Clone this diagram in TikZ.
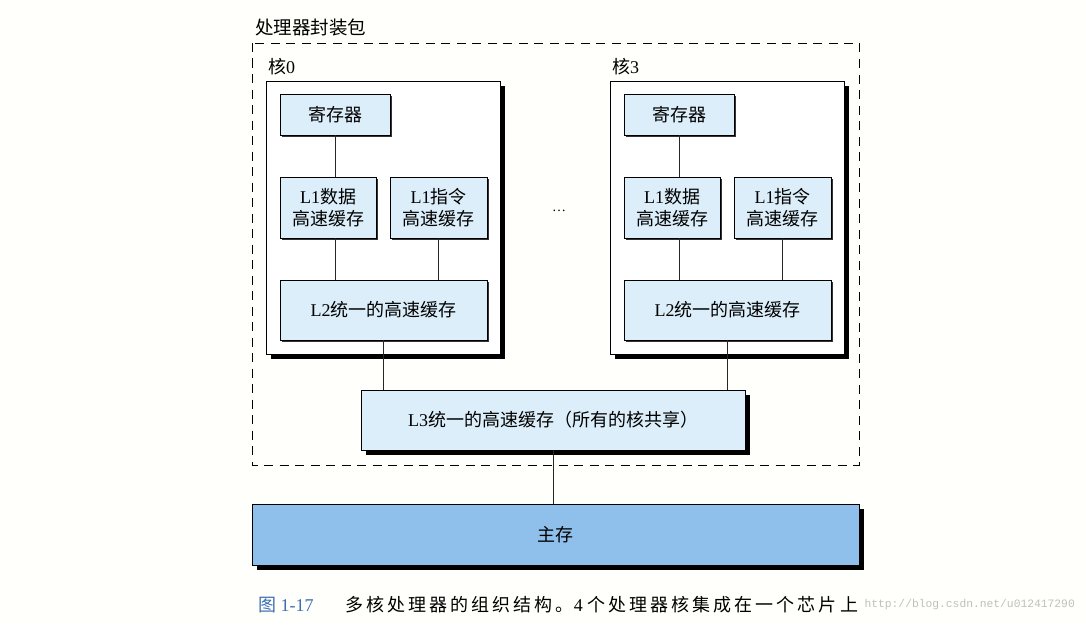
\documentclass[tikz,border=0pt]{standalone}
\usepackage{fontspec}
\setmainfont{Liberation Serif}
\newfontfamily\cjk{Noto Sans CJK SC}
\newfontfamily\cjkcap[LetterSpace=17]{Noto Sans CJK SC}
\newfontfamily\wmfont{Liberation Mono}
\usetikzlibrary{shadows}
\definecolor{lightb}{HTML}{DCEEF9}
\definecolor{memb}{HTML}{8FC0EB}
\definecolor{capblue}{HTML}{3B6DB3}
\definecolor{bgc}{HTML}{FFFFFC}
\begin{document}
\begin{tikzpicture}[x=1pt,y=-1pt,
  txt/.style={font=\fontsize{18}{22}\selectfont},
  corebox/.style={draw, line width=0.9pt, fill=white, inner sep=0pt,
    general shadow={shadow xshift=5pt, shadow yshift=-5pt, fill=black}},
  box/.style={draw, line width=0.8pt, fill=lightb, inner sep=0pt, align=center, txt,
    general shadow={shadow xshift=1.5pt, shadow yshift=-1.5pt, fill=black!80}},
  bigbox/.style={draw, line width=0.9pt, inner sep=0pt, align=center, txt,
    general shadow={shadow xshift=5pt, shadow yshift=-5pt, fill=black}},
  conn/.style={draw, line width=0.7pt, black!85},
  label/.style={anchor=west, inner sep=0pt, txt}]
\useasboundingbox[fill=bgc] (0,0) rectangle (1086,626);

% package
\node[label, font=\fontsize{18.5}{22}\selectfont] (title) at (255,27) {\cjk 处理器封装包};
\draw[line width=0.9pt, dash pattern=on 9pt off 6.5pt] (252,43) rectangle (859,465);

% cores
\node[label] (c0lab) at (268,67) {{\cjk 核}0};
\node[label] (c3lab) at (612,67) {{\cjk 核}3};
\node[corebox, minimum width=234, minimum height=273] (core0) at (383,217.5) {};
\node[corebox, minimum width=234, minimum height=273] (core3) at (727,217.5) {};

% core 0 contents
\node[box, minimum width=110, minimum height=41] (reg0) at (335,114.5) {\cjk 寄存器};
\node[box, minimum width=96, minimum height=61] (l1d0) at (328,207.5) {L1{\cjk 数据}\\{\cjk 高速缓存}};
\node[box, minimum width=97, minimum height=61] (l1i0) at (438.5,207.5) {L1{\cjk 指令}\\{\cjk 高速缓存}};
\node[box, minimum width=207, minimum height=60] (l2a) at (383.5,310) {L2{\cjk 统一的高速缓存}};

% core 3 contents
\node[box, minimum width=110, minimum height=41] (reg3) at (679,114.5) {\cjk 寄存器};
\node[box, minimum width=96, minimum height=61] (l1d3) at (672,207.5) {L1{\cjk 数据}\\{\cjk 高速缓存}};
\node[box, minimum width=97, minimum height=61] (l1i3) at (782.5,207.5) {L1{\cjk 指令}\\{\cjk 高速缓存}};
\node[box, minimum width=207, minimum height=60] (l2b) at (727.5,310) {L2{\cjk 统一的高速缓存}};

\node[inner sep=0pt, font=\fontsize{14}{14}\selectfont] (dots) at (559,211) {\ldots};

% L3
\node[bigbox, fill=lightb, minimum width=384, minimum height=60] (l3) at (553,420) {L3{\cjk 统一的高速缓存（所有的核共享）}};

% main memory
\node[bigbox, fill=memb, minimum width=607, minimum height=61] (mem) at (555.5,534.5) {\cjk 主存};

% connectors
\draw[conn] (reg0.south) -- (reg0.south |- l1d0.north);
\draw[conn] (reg0.south |- l1d0.south) -- (reg0.south |- l2a.north);
\draw[conn] (l1i0.south) -- (l1i0.south |- l2a.north);
\draw[conn] (reg3.south) -- (reg3.south |- l1d3.north);
\draw[conn] (reg3.south |- l1d3.south) -- (reg3.south |- l2b.north);
\draw[conn] (l1i3.south) -- (l1i3.south |- l2b.north);
\draw[conn] (l2a.south) -- (l2a.south |- l3.north);
\draw[conn] (l2b.south) -- (l2b.south |- l3.north);
\draw[conn] (l3.south) -- (l3.south |- mem.north);

% caption and watermark
\node[label, text=capblue] (capnum) at (258,605) {{\cjk 图} 1-17};
\node[label] (cap) at (345,605) {{\cjkcap 多核处理器的组织结构。}4\ {\cjkcap 个处理器核集成在一个芯片上}};
\node[anchor=east, inner sep=0pt, text=black!25, font=\wmfont\fontsize{11.3}{12}\selectfont] (wm) at (1075,605) {http://blog.csdn.net/u012417290};
\end{tikzpicture}
\end{document}
